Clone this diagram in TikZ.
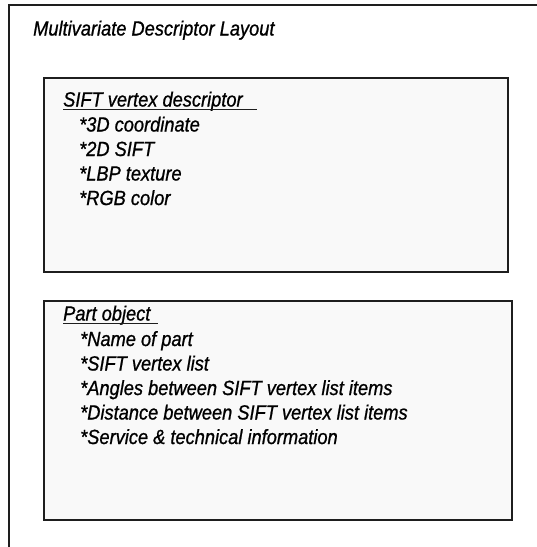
\documentclass[tikz,border=0pt]{standalone}
\usepackage{fontspec}
\setmainfont{Liberation Sans}
\newfontfamily\condfont{Liberation Sans}[FakeStretch=0.89,FakeBold=0.9]
\definecolor{boxgray}{HTML}{F9F9F9}
\definecolor{edge}{HTML}{1E1E1E}
\begin{document}
\begin{tikzpicture}[x=1pt,y=-1pt,
  txt/.style={anchor=base west, inner sep=0pt, font=\condfont\fontsize{20.5}{24}\selectfont\itshape},
  box/.style={draw=edge, line width=2pt, fill=boxgray, anchor=north west, inner sep=0pt},
  outerline/.style={draw=edge, line width=2pt},
  uline/.style={draw=edge, line width=1pt}]
\useasboundingbox (0,0) rectangle (537,547);
% outer frame (cropped)
\coordinate (obl) at (8.5,548);
\coordinate (otl) at (8.5,5);
\coordinate (otr) at (538,5);
\draw[outerline] (obl) -- (otl) -- (otr);
\node[txt] (title) at (33,35.5) {Multivariate Descriptor Layout};
% box 1
\node[box, minimum width=464pt, minimum height=194pt] (b1) at (43,77) {};
\node[txt] (h1) at (63,106.5) {SIFT vertex descriptor};
\draw[uline] ([yshift=-3pt]h1.base west) -- ++(194,0);
\node[txt] (a1) at (79,131.5) {*3D coordinate};
\node[txt] (a2) at (79,156) {*2D SIFT};
\node[txt] (a3) at (79,180.5) {*LBP texture};
\node[txt] (a4) at (79,205) {*RGB color};
% box 2
\node[box, minimum width=468pt, minimum height=219pt] (b2) at (43,300) {};
\node[txt] (h2) at (63,320.5) {Part object};
\draw[uline] ([yshift=-3pt]h2.base west) -- ++(95,0);
\node[txt] (p1) at (80,346) {*Name of part};
\node[txt] (p2) at (80,370.5) {*SIFT vertex list};
\node[txt] (p3) at (80,395) {*Angles between SIFT vertex list items};
\node[txt] (p4) at (80,419.5) {*Distance between SIFT vertex list items};
\node[txt] (p5) at (80,444) {*Service \& technical information};
\end{tikzpicture}
\end{document}
